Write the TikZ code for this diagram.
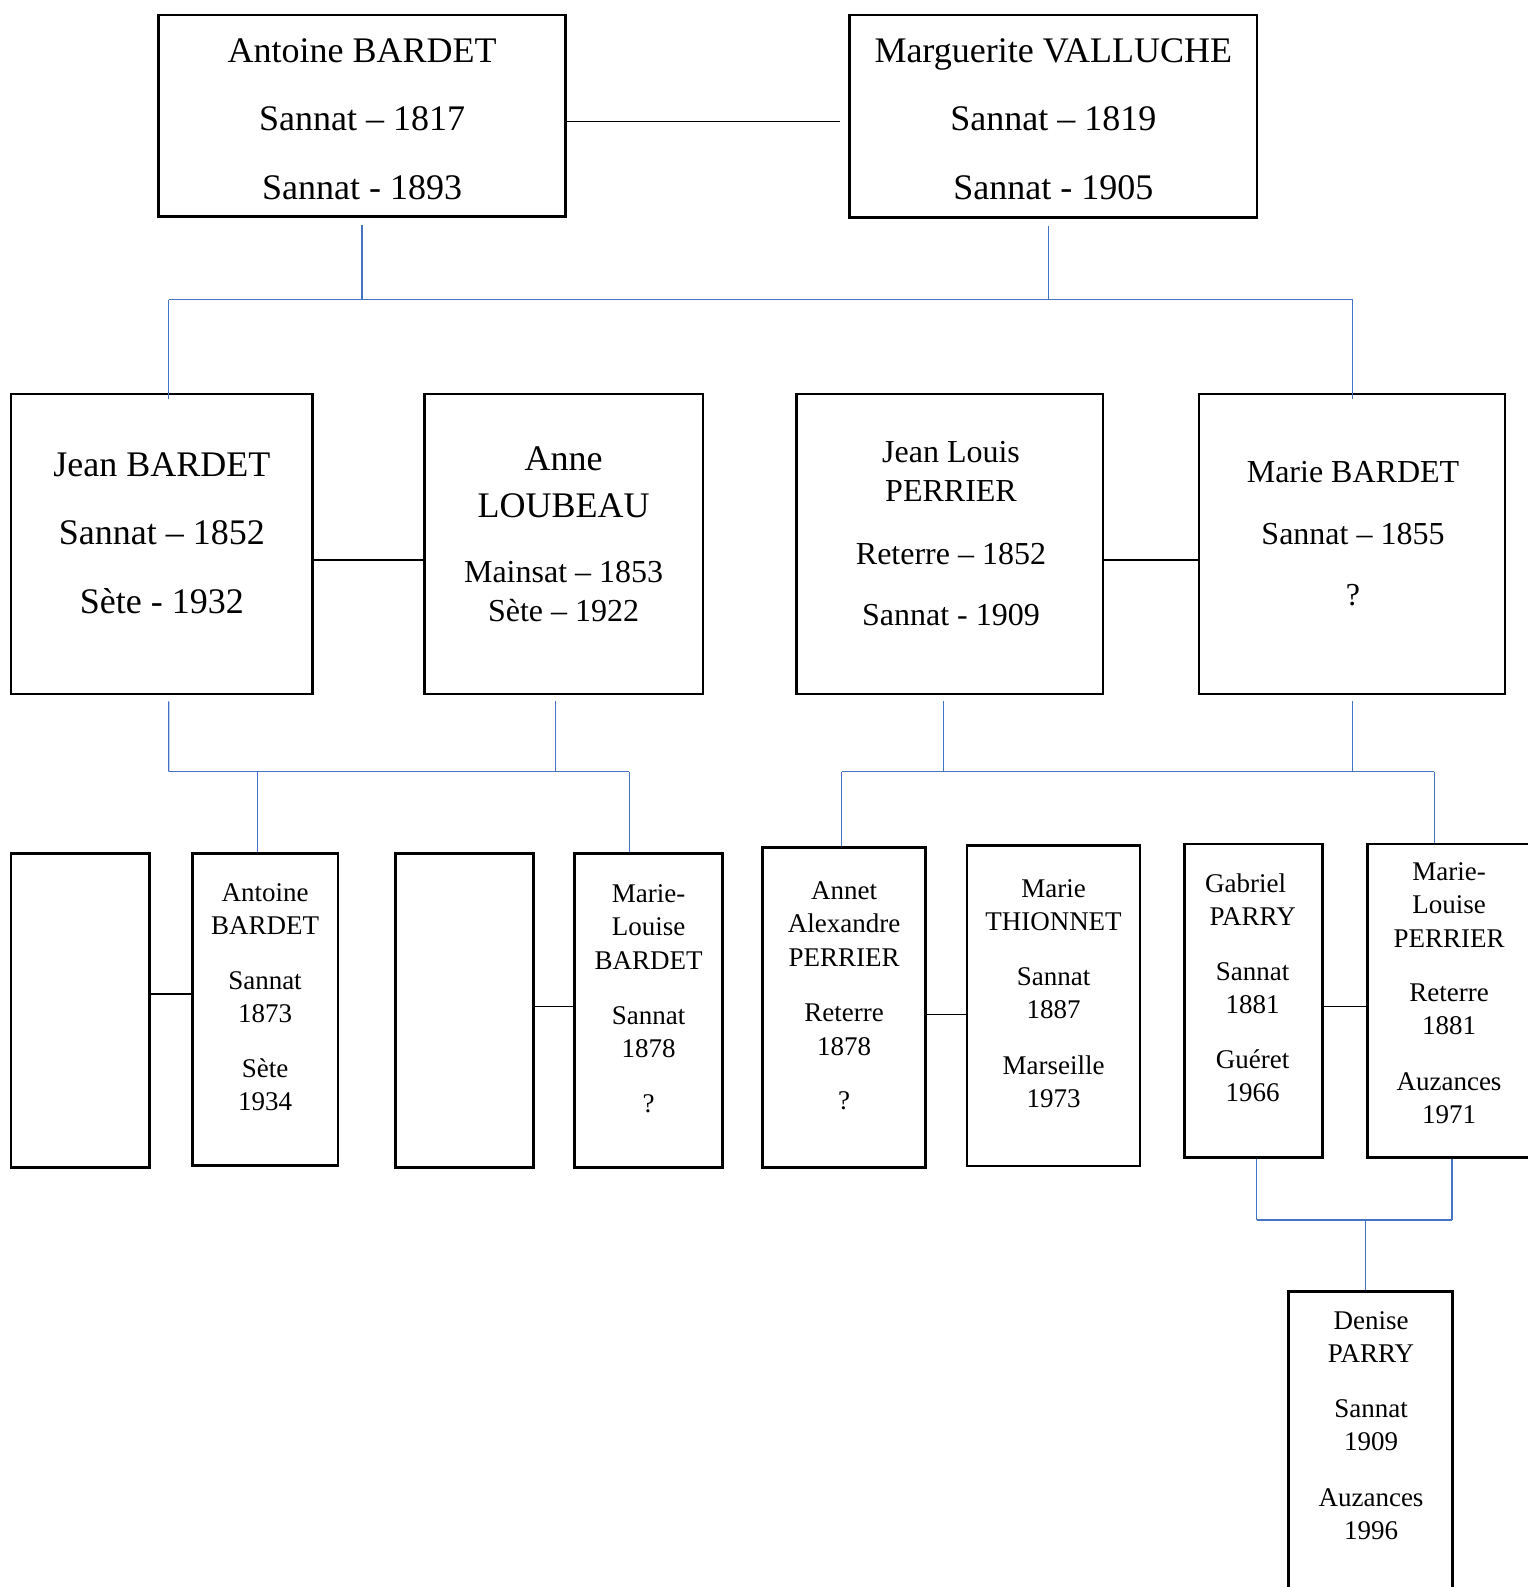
\documentclass[tikz,border=0pt]{standalone}
\usepackage{fontspec}
\setmainfont{Liberation Serif}
\definecolor{famblue}{RGB}{68,114,196}
\begin{document}
\begin{tikzpicture}[x=1pt,y=-1pt,
  box/.style={draw, line width=2.6pt, inner sep=0pt},
  txt/.style={inner sep=0pt, align=center, anchor=north},
  bigf/.style={font=\fontsize{36}{68.3}\selectfont},
  midf/.style={font=\fontsize{32}{39.5}\selectfont},
  smallf/.style={font=\fontsize{27}{33.4}\selectfont},
  link/.style={line width=1.3pt, black},
  fam/.style={line width=1.3pt, famblue}]
\useasboundingbox (0,0) rectangle (1528,1587);
\clip (0,0) rectangle (1528,1587);
\fill[white] (0,0) rectangle (1528,1587);

% ---------- generation 1
\node[box, minimum width=407.2pt, minimum height=201.5pt] (a1) at (362.1,115.75) {};
\node[txt, bigf] (a1t) at (362.1,14.5) {\strut Antoine BARDET\\\strut Sannat – 1817\\\strut Sannat - 1893};
\node[box, minimum width=407.4pt, minimum height=202.3pt] (m1) at (1053.3,116.2) {};
\node[txt, bigf] (m1t) at (1053.3,14.5) {\strut Marguerite VALLUCHE\\\strut Sannat – 1819\\\strut Sannat - 1905};
\draw[link] ([yshift=-6pt]a1.east) -- ([xshift=-8pt,yshift=-6pt]a1.east -| m1.west);

% ---------- generation 2
\node[box, minimum width=301.5pt, minimum height=300pt] (jean) at (161.85,544) {};
\node[txt, bigf] (jeant) at (161.85,428.6) {\strut Jean BARDET\\\strut Sannat – 1852\\\strut Sète - 1932};
\node[box, minimum width=278.3pt, minimum height=300pt] (anne) at (563.75,544) {};
\node[txt, font=\fontsize{36}{46.6}\selectfont] (annet1) at (563.6,437.7) {\strut Anne\\\strut LOUBEAU};
\node[txt, midf] (annet2) at (563.6,554.6) {\strut Mainsat – 1853\\\strut Sète – 1922};
\node[box, minimum width=306.1pt, minimum height=300pt] (jl) at (949.75,544) {};
\node[txt, midf] (jlt) at (951,434.2) {\strut Jean Louis\\\strut PERRIER\\[23.2pt]\strut Reterre – 1852\\[22.2pt]\strut Sannat - 1909};
\node[box, minimum width=306.1pt, minimum height=300pt] (mb) at (1351.85,544) {};
\node[txt, font=\fontsize{32}{61.8}\selectfont] (mbt) at (1353,438.8) {\strut Marie BARDET\\\strut Sannat – 1855\\\strut ?};
\draw[link] ([yshift=-16pt]jean.east) -- ([yshift=-16pt]jean.east -| anne.west);
\draw[link] ([yshift=-16pt]jl.east) -- ([yshift=-16pt]jl.east -| mb.west);

% ---------- generation 3
\node[box, minimum width=138.2pt, minimum height=314.4pt] (e1) at (80.2,1010.5) {};
\node[box, minimum width=145.5pt, minimum height=312.4pt] (ab2) at (265.15,1009.5) {};
\node[txt, smallf] (ab2t) at (265,878) {\strut Antoine\\\strut BARDET\\[21.2pt]\strut Sannat\\\strut 1873\\[21.2pt]\strut Sète\\\strut 1934};
\node[box, minimum width=138.2pt, minimum height=314.4pt] (e2) at (464.6,1010.5) {};
\node[box, minimum width=148.3pt, minimum height=314.4pt] (mlb) at (648.55,1010.5) {};
\node[txt, smallf] (mlbt) at (648.5,879) {\strut Marie-\\\strut Louise\\\strut BARDET\\[21.7pt]\strut Sannat\\\strut 1878\\[21.3pt]\strut ?};
\node[box, minimum width=163.1pt, minimum height=320.4pt] (annet) at (843.95,1007.5) {};
\node[txt, smallf] (annett) at (844,876) {\strut Annet\\\strut Alexandre\\\strut PERRIER\\[22pt]\strut Reterre\\\strut 1878\\[20.5pt]\strut ?};
\node[box, minimum width=172.9pt, minimum height=320.7pt] (mt) at (1053.55,1005.65) {};
\node[txt, smallf] (mtt) at (1053.5,874) {\strut Marie\\\strut THIONNET\\[21pt]\strut Sannat\\\strut 1887\\[22pt]\strut Marseille\\\strut 1973};
\node[box, minimum width=137.6pt, minimum height=313.7pt] (gp) at (1253.4,1000.85) {};
\node[txt, smallf] (gpt) at (1252.7,868.9) {\strut Gabriel\hspace*{14pt}\\\strut PARRY\hspace*{14pt}\\[21pt]\strut Sannat\\\strut 1881\\[21pt]\strut Guéret\\\strut 1966};
\node[box, minimum width=192.8pt, minimum height=313.7pt] (mlp) at (1463.6,1000.85) {};
\node[txt, smallf] (mlpt) at (1449,856.7) {\strut Marie-\\\strut Louise\\\strut PERRIER\\[21pt]\strut Reterre\\\strut 1881\\[22pt]\strut Auzances\\\strut 1971};
\draw[link] ([yshift=16.5pt]e1.east) -- ([yshift=16.5pt]e1.east -| ab2.west);
\draw[link] ([yshift=3.8pt]e2.east) -- ([yshift=3.8pt]e2.east -| mlb.west);
\draw[link] ([yshift=-6.8pt]annet.east) -- ([yshift=-6.8pt]annet.east -| mt.west);
\draw[link] ([yshift=-5.85pt]gp.east) -- ([yshift=-5.85pt]gp.east -| mlp.west);

% ---------- generation 4
\node[box, minimum width=163.6pt, minimum height=328.3pt] (den) at (1370.5,1455.85) {};
\node[txt, smallf] (dent) at (1371,1305.5) {\strut Denise\\\strut PARRY\\[21.6pt]\strut Sannat\\\strut 1909\\[22.2pt]\strut Auzances\\\strut 1996};

% ---------- family lines
\coordinate (bar1l) at (168.7,299.7);
\coordinate (bar1r) at (1352.6,299.7);
\draw[fam] ([yshift=-7pt]a1.south) -- (a1.south |- bar1l);
\draw[fam] ([xshift=-5pt,yshift=-7pt]m1.south) -- ([xshift=-5pt]m1.south |- bar1l);
\draw[fam] (bar1l) -- (bar1r);
\draw[fam] (bar1l) -- ([yshift=-6pt]bar1l |- jean.north);
\draw[fam] (bar1r) -- ([yshift=-6pt]bar1r |- mb.north);

\coordinate (bar2l) at (168.7,771.7);
\coordinate (bar2r) at (629.2,771.7);
\draw[fam] ([xshift=6.9pt,yshift=-6pt]jean.south) -- (bar2l);
\draw[fam] ([xshift=-8.2pt,yshift=-6pt]anne.south) -- ([xshift=-8.2pt]anne.south |- bar2l);
\draw[fam] (bar2l) -- (bar2r);
\draw[fam] (ab2.north -| 257.4,0) -- (bar2l -| 257.4,0);
\draw[fam] (bar2r) -- (bar2r |- mlb.north);

\coordinate (bar3l) at (841.8,771.7);
\coordinate (bar3r) at (1434.3,771.7);
\draw[fam] ([xshift=-6.5pt,yshift=-6pt]jl.south) -- ([xshift=-6.5pt]jl.south |- bar3l);
\draw[fam] ([xshift=0.8pt,yshift=-6pt]mb.south) -- ([xshift=0.8pt]mb.south |- bar3l);
\draw[fam] (bar3l) -- (bar3r);
\draw[fam] (bar3l) -- (bar3l |- annet.north);
\draw[fam] (bar3r) -- (bar3r |- mlp.north);

\coordinate (bar4l) at (1256.7,1220);
\coordinate (bar4r) at (1452,1220);
\coordinate (bar4m) at (1365.7,1220);
\draw[fam] (bar4l |- gp.south) -- (bar4l);
\draw[fam] (bar4r |- mlp.south) -- (bar4r);
\draw[fam] (bar4l) -- (bar4r);
\draw[fam] (bar4m) -- (bar4m |- den.north);
\end{tikzpicture}
\end{document}
